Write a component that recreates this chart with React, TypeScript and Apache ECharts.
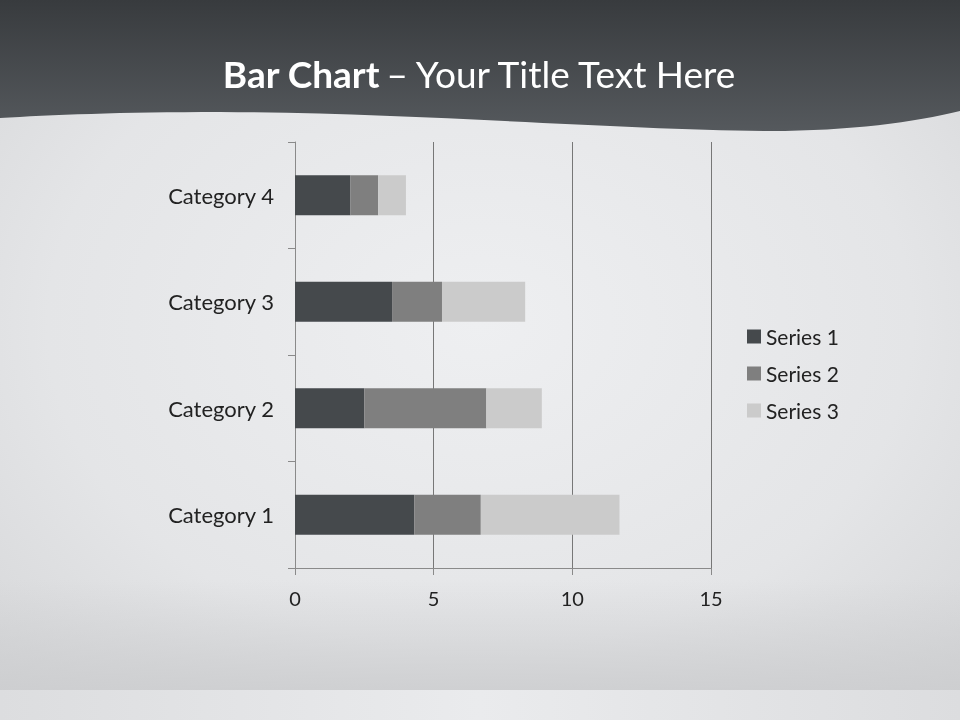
import React, { useEffect, useRef } from "react";
import * as echarts from "echarts";

const categories = ["Category 1", "Category 2", "Category 3", "Category 4"];
const seriesNames = ["Series 1", "Series 2", "Series 3"];
const series1 = [4.3, 2.5, 3.5, 2];
const series2 = [2.4, 4.4, 1.8, 1];
const series3 = [5, 2, 3, 1];
const seriesColors = ["#45494c", "#7f7f7f", "#cbcbcb"];
const xTicks = [0, 5, 10, 15];

const WAVE =
  "M0,0 L960,0 L960,111 C915,122 850,131 770,131 C620,130 420,113 220,112 C120,112 50,115 0,118 Z";

export default function App() {
  const ref = useRef<HTMLDivElement>(null);
  useEffect(() => {
    if (!ref.current) return;
    try {
      echarts.graphic.registerShape("wave", echarts.graphic.extendPath(WAVE, {}) as any);
    } catch (e) {}
    const chart = echarts.init(ref.current, null, { renderer: "svg" });
    const font = "Lato, 'Open Sans', sans-serif";
    const data = [series1, series2, series3];
    chart.setOption({
      animation: false,
      textStyle: { fontFamily: font },
      graphic: [
        {
          type: "rect",
          z: -100,
          shape: { x: 0, y: 0, width: 960, height: 720 },
          style: {
            fill: new echarts.graphic.RadialGradient(0.5, 0.45, 0.75, [
              { offset: 0, color: "#eeeff1" },
              { offset: 0.6, color: "#e4e5e7" },
              { offset: 1, color: "#d3d4d6" },
            ]),
          },
        },
        {
          type: "rect",
          z: -99,
          shape: { x: 0, y: 580, width: 960, height: 110 },
          style: {
            fill: new echarts.graphic.LinearGradient(0, 0, 0, 1, [
              { offset: 0, color: "rgba(204,205,207,0)" },
              { offset: 1, color: "rgba(204,205,207,0.85)" },
            ]),
          },
        },
        {
          type: "rect",
          z: -98,
          shape: { x: 0, y: 690, width: 960, height: 30 },
          style: {
            fill: new echarts.graphic.LinearGradient(0, 0, 1, 0, [
              { offset: 0, color: "#dcdddf" },
              { offset: 0.5, color: "#eaebed" },
              { offset: 1, color: "#dcdddf" },
            ]),
          },
        },
        {
          type: "wave",
          z: -97,
          shape: {},
          style: {
            fill: new echarts.graphic.LinearGradient(0, 0, 0, 1, [
              { offset: 0, color: "#383b3e" },
              { offset: 1, color: "#55595d" },
            ]),
          },
        },
      ],
      title: {
        text: "{b|Bar Chart} {r|– Your Title Text Here}",
        left: "center",
        top: 50,
        textStyle: {
          rich: {
            b: { fontFamily: font, fontSize: 37, fontWeight: "bold", color: "#ffffff" },
            r: { fontFamily: font, fontSize: 37, fontWeight: "normal", color: "#ffffff" },
          },
        },
      },
      legend: {
        orient: "vertical",
        left: 747,
        top: 326,
        padding: 0,
        icon: "rect",
        itemWidth: 14,
        itemHeight: 14,
        itemGap: 16,
        data: seriesNames,
        textStyle: { fontFamily: font, fontSize: 21, color: "#222222" },
      },
      grid: { left: 295, right: 249, top: 142, bottom: 152, containLabel: false },
      xAxis: {
        type: "value",
        min: 0,
        max: 15,
        interval: 5,
        axisLine: { show: true, lineStyle: { color: "#8a8a8a", width: 1 } },
        axisTick: { show: true, length: 7, lineStyle: { color: "#8a8a8a" } },
        splitLine: { show: true, lineStyle: { color: "#777777", width: 1 } },
        axisLabel: {
          fontFamily: font,
          fontSize: 20,
          color: "#222222",
          margin: 20,
          formatter: (v: number) => (xTicks.includes(v) ? String(v) : ""),
        },
      },
      yAxis: {
        type: "category",
        data: categories,
        axisLine: { show: true, lineStyle: { color: "#8a8a8a", width: 1 } },
        axisTick: { show: true, length: 7, lineStyle: { color: "#8a8a8a" } },
        axisLabel: { fontFamily: font, fontSize: 22, color: "#222222", margin: 21 },
      },
      series: seriesNames.map((name, i) => ({
        name,
        type: "bar",
        stack: "total",
        barWidth: 40,
        itemStyle: { color: seriesColors[i] },
        data: data[i],
      })),
    });
    return () => chart.dispose();
  }, []);
  return (
    <div
      ref={ref}
      style={{ position: "fixed", left: 0, top: 0, width: 960, height: 720 }}
    />
  );
}
